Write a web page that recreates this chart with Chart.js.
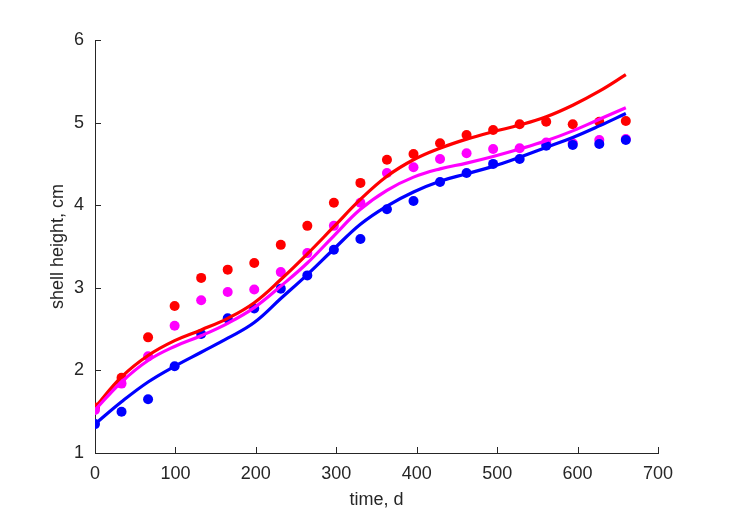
<!DOCTYPE html>
<html>
<head>
<meta charset="utf-8">
<script src="https://cdn.jsdelivr.net/npm/chart.js@4.4.0/dist/chart.umd.min.js"></script>
<style>
  html, body { margin: 0; padding: 0; background: #fff; }
  canvas { display: block; }
</style>
</head>
<body>
<canvas id="chart" width="729" height="521"></canvas>
<script>
// sampling times (days)
const days = [0, 33, 66, 99, 132, 165, 198, 231, 264, 297, 330, 363, 396, 429, 462, 495, 528, 561, 594, 627, 660];

// observed shell heights
const redObs = [1.55, 1.91, 2.40, 2.78, 3.12, 3.22, 3.30, 3.52, 3.75, 4.03, 4.27, 4.55, 4.62, 4.75, 4.85, 4.91, 4.98, 5.01, 4.98, 5.01, 5.02];
const magentaObs = [1.52, 1.84, 2.17, 2.54, 2.85, 2.95, 2.98, 3.19, 3.42, 3.75, 4.03, 4.39, 4.46, 4.56, 4.63, 4.68, 4.69, 4.76, 4.75, 4.79, 4.80];
const blueObs = [1.35, 1.50, 1.65, 2.05, 2.44, 2.63, 2.75, 2.99, 3.15, 3.46, 3.59, 3.95, 4.05, 4.28, 4.39, 4.50, 4.56, 4.72, 4.73, 4.74, 4.79];

// model curves
const redFit = [1.55, 1.92, 2.18, 2.36, 2.49, 2.63, 2.82, 3.10, 3.41, 3.74, 4.07, 4.35, 4.55, 4.69, 4.80, 4.89, 4.97, 5.07, 5.21, 5.38, 5.58];
const magentaFit = [1.52, 1.86, 2.12, 2.29, 2.42, 2.57, 2.76, 3.02, 3.30, 3.63, 3.95, 4.18, 4.34, 4.44, 4.51, 4.59, 4.68, 4.78, 4.90, 5.04, 5.18];
const blueFit = [1.35, 1.62, 1.86, 2.05, 2.22, 2.39, 2.58, 2.87, 3.16, 3.47, 3.77, 3.99, 4.16, 4.29, 4.38, 4.47, 4.58, 4.70, 4.82, 4.96, 5.11];

const xTicks = [0, 100, 200, 300, 400, 500, 600, 700];
const yTicks = [1, 2, 3, 4, 5, 6];

const axisColor = '#262626';
const fontFamily = '"Liberation Sans", Arial, sans-serif';

function pts(ys) {
    return days.map((d, i) => ({ x: d, y: ys[i] }));
}

function dots(ys, color, order) {
    return {
        type: 'scatter',
        data: pts(ys),
        backgroundColor: color,
        borderColor: color,
        pointRadius: 5,
        pointBorderWidth: 0,
        showLine: false,
        order: order
    };
}

function curve(ys, color, order) {
    return {
        type: 'line',
        data: pts(ys),
        borderColor: color,
        borderWidth: 3.2,
        pointRadius: 0,
        fill: false,
        tension: 0.4,
        order: order
    };
}

// MATLAB style inward ticks
const innerTicks = {
    id: 'innerTicks',
    afterDraw(chart) {
        const ctx = chart.ctx;
        const xs = chart.scales.x;
        const ys = chart.scales.y;
        const area = chart.chartArea;
        ctx.save();
        ctx.strokeStyle = axisColor;
        ctx.lineWidth = 1;
        ctx.beginPath();
        xTicks.forEach(v => {
            const px = Math.round(xs.getPixelForValue(v)) + 0.5;
            ctx.moveTo(px, area.bottom);
            ctx.lineTo(px, area.bottom - 6);
        });
        yTicks.forEach(v => {
            const py = Math.round(ys.getPixelForValue(v)) + 0.5;
            ctx.moveTo(area.left, py);
            ctx.lineTo(area.left + 6, py);
        });
        ctx.stroke();
        ctx.restore();
    }
};

const ctx = document.getElementById('chart').getContext('2d');

new Chart(ctx, {
    data: {
        datasets: [
            curve(blueFit, '#0000ff', 1),
            curve(magentaFit, '#ff00ff', 2),
            curve(redFit, '#ff0000', 3),
            dots(blueObs, '#0000ff', 4),
            dots(magentaObs, '#ff00ff', 5),
            dots(redObs, '#ff0000', 6)
        ]
    },
    options: {
        responsive: false,
        animation: false,
        layout: { padding: { left: 0, right: 71, top: 40, bottom: 0 } },
        plugins: {
            legend: { display: false },
            tooltip: { enabled: false }
        },
        scales: {
            x: {
                type: 'linear',
                min: 0,
                max: 700,
                afterBuildTicks: s => { s.ticks = xTicks.map(v => ({ value: v })); },
                afterFit: s => { s.height = 68; },
                grid: { display: false, drawTicks: false },
                border: { display: true, color: axisColor, width: 1 },
                ticks: {
                    color: axisColor,
                    padding: 10,
                    maxRotation: 0,
                    font: { family: fontFamily, size: 18 }
                },
                title: {
                    display: true,
                    text: 'time, d',
                    color: axisColor,
                    padding: { top: 0, bottom: 10 },
                    font: { family: fontFamily, size: 18 }
                }
            },
            y: {
                type: 'linear',
                min: 1,
                max: 6,
                afterBuildTicks: s => { s.ticks = yTicks.map(v => ({ value: v })); },
                afterFit: s => { s.width = 95; },
                grid: { display: false, drawTicks: false },
                border: { display: true, color: axisColor, width: 1 },
                ticks: {
                    color: axisColor,
                    padding: 11,
                    font: { family: fontFamily, size: 18 }
                },
                title: {
                    display: true,
                    text: 'shell height, cm',
                    color: axisColor,
                    padding: { top: 47, bottom: 0 },
                    font: { family: fontFamily, size: 18 }
                }
            }
        }
    },
    plugins: [innerTicks]
});
</script>
</body>
</html>
